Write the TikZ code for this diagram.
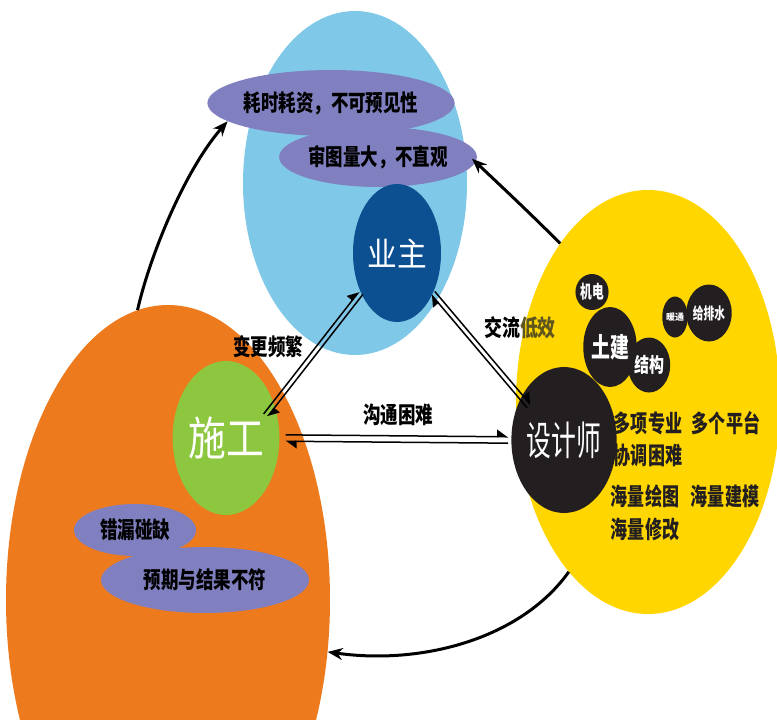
\documentclass[tikz,border=0pt]{standalone}
\usepackage{fontspec}
\newfontfamily\cjk{Noto Sans CJK SC}
\usetikzlibrary{shapes.geometric,arrows.meta}
\definecolor{skyb}{RGB}{128,200,232}
\definecolor{navyb}{RGB}{12,80,145}
\definecolor{orng}{RGB}{238,122,30}
\definecolor{lgreen}{RGB}{141,198,63}
\definecolor{yel}{RGB}{255,214,0}
\definecolor{purp}{RGB}{128,128,192}
\definecolor{dk}{RGB}{35,31,32}
\definecolor{olv}{RGB}{95,85,30}
\newcommand\cz[3]{{\fontsize{#1}{#1}\selectfont\scalebox{#2}[1]{#3}}}
\begin{document}
\begin{tikzpicture}[x=1pt,y=-1pt,font=\cjk\bfseries,
 blob/.style={ellipse,inner sep=0pt,draw=none},
 dkblob/.style={blob,fill=dk,text=white},
 ytxt/.style={text=dk,inner sep=0pt},
 lbl/.style={text=black,inner sep=0pt},
 harr/.style={line width=1.5pt,-{Triangle[harpoon,length=10pt,width=14pt]}},
 carr/.style={line width=3pt,-{Stealth[length=15pt,width=12pt]}}]
\useasboundingbox (0,0) rectangle (777,720);
\clip (0,0) rectangle (777,720);
% big regions
\node[blob,fill=skyb,minimum width=224pt,minimum height=344pt] (yzbg) at (355,183) {};
\node[blob,fill=orng,minimum width=324pt,minimum height=590pt] (sgbg) at (168,600) {};
\node[blob,fill=yel,minimum width=264pt,minimum height=424pt] (sjbg) at (648,402) {};
% owner
\node[blob,fill=purp,minimum width=226pt,minimum height=66pt] (p1) at (331,103) {\cz{23}{0.76}{耗时耗资，不可预见性}};
\node[blob,fill=purp,minimum width=180pt,minimum height=60pt] (p2) at (378,157) {\cz{23}{0.76}{审图量大，不直观}};
\node[blob,fill=navyb,text=white,minimum width=88pt,minimum height=138pt] (yz) at (397,253) {\mdseries\cz{33}{0.9}{业主}};
% construction
\node[blob,fill=lgreen,text=white,minimum width=92pt,minimum height=154pt] (sg) at (226,438) {\mdseries\cz{46}{0.82}{施工}};
\node[blob,fill=purp,minimum width=122pt,minimum height=52pt] (p3) at (135,530) {\cz{23}{0.76}{错漏碰缺}};
\node[blob,fill=purp,minimum width=208pt,minimum height=66pt] (p4) at (205,580) {\cz{23}{0.76}{预期与结果不符}};
% designer
\node[dkblob,minimum width=88pt,minimum height=146pt] (sj) at (564,440) {\mdseries\cz{40}{0.62}{设计师}};
\node[dkblob,minimum width=28pt,minimum height=36pt] (jd) at (592,292) {\cz{18}{0.65}{机电}};
\node[dkblob,minimum width=35pt,minimum height=55pt] (jg) at (649,365) {\cz{20}{0.75}{结构}};
\node[dkblob,minimum width=48pt,minimum height=80pt] (tj) at (610,347) {\cz{27}{0.7}{土建}};
\node[dkblob,minimum width=25pt,minimum height=41pt] (nt) at (675,317) {\cz{9}{1}{暖通}};
\node[dkblob,minimum width=36pt,minimum height=57pt] (gps) at (709,313) {\cz{16}{0.67}{给排水}};
\node[ytxt] (t1) at (648,423) {\cz{24}{0.71}{多项专业}};
\node[ytxt] (t2) at (726,423) {\cz{24}{0.71}{多个平台}};
\node[ytxt] (t3) at (648,455) {\cz{24}{0.71}{协调困难}};
\node[ytxt] (t4) at (645,496) {\cz{24}{0.71}{海量绘图}};
\node[ytxt] (t5) at (725,496) {\cz{24}{0.71}{海量建模}};
\node[ytxt] (t6) at (645,529) {\cz{24}{0.71}{海量修改}};
% connector labels
\node[lbl] (l1) at (268,347) {\cz{23}{0.76}{变更频繁}};
\node[lbl] (l2) at (398,415) {\cz{23}{0.76}{沟通困难}};
\node[lbl] (l3) at (520,328) {\cz{23}{0.78}{交流\textcolor{olv}{低效}}};
% double harpoon connectors
\draw[harr,transform canvas={shift={(-1.9pt,1.4pt)}},shorten <=-14pt] (sg.35) -- (yz.228);
\draw[harr,transform canvas={shift={(1.9pt,-1.4pt)}},shorten >=-14pt] (yz.228) -- (sg.35);
\draw[harr,transform canvas={shift={(1.75pt,1.55pt)}},shorten >=-12pt] (yz.-48) -- (sj.135);
\draw[harr,transform canvas={shift={(-1.75pt,-1.55pt)}},shorten <=-12pt] (sj.135) -- (yz.-48);
\draw[harr,transform canvas={shift={(0pt,3.2pt)}},shorten <=6pt,shorten >=3pt] (sg.east) -- (sj.west);
\draw[harr,transform canvas={shift={(0pt,-3.2pt)}},shorten <=3pt,shorten >=6pt] (sj.west) -- (sg.east);
% curved arrows
\draw[carr] (sgbg.96) .. controls (150,255) and (185,170) .. (p1.190);
\draw[carr,shorten >=-5pt] (sjbg.119) .. controls (535,218) and (500,185) .. (p2.-3);
\draw[carr] (sjbg.245) .. controls (520,640) and (420,665) .. (sgbg.-18);
\end{tikzpicture}
\end{document}
